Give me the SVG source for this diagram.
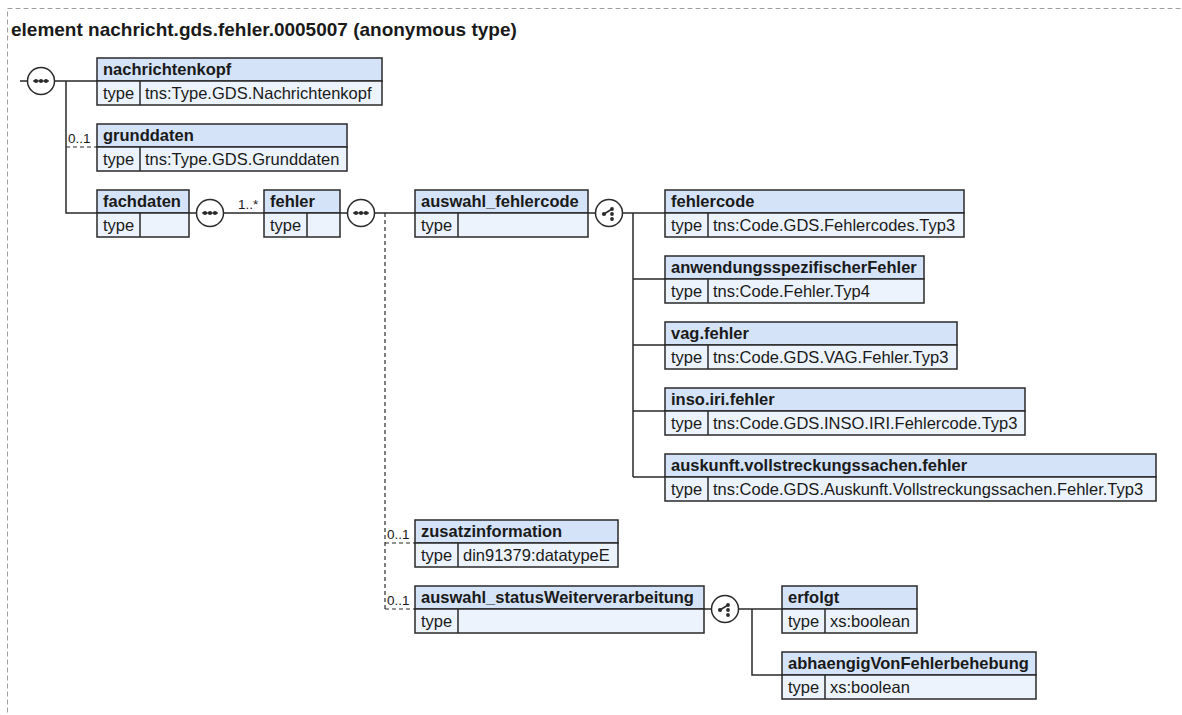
<svg xmlns="http://www.w3.org/2000/svg" width="1182" height="715" viewBox="0 0 1182 715">
<style>
.frame{fill:none;stroke:#a0a0a0;stroke-width:1;stroke-dasharray:5,3}
.title{font-family:"Liberation Sans",Arial,sans-serif;font-size:19px;font-weight:bold;fill:#1a1a1a}
.hd{fill:#d5e3f8;stroke:#2a2a2a;stroke-width:1.5}
.rw{fill:#edf3fc;stroke:#2a2a2a;stroke-width:1.5}
.dv{stroke:#2a2a2a;stroke-width:1.5}
.h{font-family:"Liberation Sans",Arial,sans-serif;font-size:16.5px;font-weight:bold;fill:#1a1a1a}
.t{font-family:"Liberation Sans",Arial,sans-serif;font-size:16.5px;fill:#1a1a1a}
.c{fill:none;stroke:#2a2a2a;stroke-width:1.5}
.o{fill:none;stroke:#2a2a2a;stroke-width:1.2;stroke-dasharray:4,3}
.m{font-family:"Liberation Sans",Arial,sans-serif;font-size:13.5px;fill:#1a1a1a}
.ic{fill:#fff;stroke:#2a2a2a;stroke-width:1.5}
.dot{fill:#2a2a2a}
</style>
<defs>
<g id="seq">
<circle class="ic" r="13.5"/>
<line x1="-8" y1="0" x2="8" y2="0" stroke="#2a2a2a" stroke-width="1.3"/>
<circle class="dot" cx="-5" r="2.1"/><circle class="dot" r="2.1"/><circle class="dot" cx="5" r="2.1"/>
</g>
<g id="cho">
<circle class="ic" r="13.5"/>
<line x1="-5" y1="1" x2="3" y2="-4" stroke="#2a2a2a" stroke-width="1.5"/>
<circle class="dot" cx="-5" cy="1" r="2.1"/>
<circle class="dot" cx="3" cy="-4" r="1.9"/><circle class="dot" cx="3" cy="1" r="1.9"/><circle class="dot" cx="3" cy="6" r="1.9"/>
</g>
</defs>
<rect class="frame" x="7.5" y="8.5" width="1200" height="720"/>
<text class="title" x="11" y="36">element nachricht.gds.fehler.0005007 (anonymous type)</text>

<g id="connectors">
<path class="c" d="M20,81H27.5 M54.5,81H97 M66,81V213H97"/>
<path class="o" d="M66,147H97"/>
<text class="m" x="68" y="143">0..1</text>
<path class="c" d="M189,213H196.5 M223.5,213H264"/>
<text class="m" x="238" y="209">1..*</text>
<path class="c" d="M340,213H347.5 M374.5,213H415"/>
<path class="o" d="M385,213V609 M385,543H415 M385,609H415"/>
<text class="m" x="387" y="539">0..1</text>
<text class="m" x="387" y="605">0..1</text>
<path class="c" d="M588,213H595.5 M622.5,213H665 M633,213V477 M633,279H665 M633,345H665 M633,411H665 M633,477H665"/>
<path class="c" d="M704,609H711.5 M738.5,609H782 M752,609V675H782"/>
</g>

<g id="seq-root"><use href="#seq" x="41" y="81"/></g>
<g id="seq-fachdaten"><use href="#seq" x="210" y="213"/></g>
<g id="seq-fehler"><use href="#seq" x="361" y="213"/></g>
<g id="choice-fehlercode"><use href="#cho" x="609" y="213"/></g>
<g id="choice-status"><use href="#cho" x="725" y="609"/></g>

<g id="nachrichtenkopf" transform="translate(97,58)">
<rect class="hd" width="285" height="23"/><rect class="rw" y="23" width="285" height="24"/><line class="dv" x1="43" y1="23" x2="43" y2="47"/>
<text class="h" x="6" y="17">nachrichtenkopf</text><text class="t" x="6" y="41">type</text><text class="t" x="48" y="41">tns:Type.GDS.Nachrichtenkopf</text>
</g>
<g id="grunddaten" transform="translate(97,124)">
<rect class="hd" width="250" height="23"/><rect class="rw" y="23" width="250" height="24"/><line class="dv" x1="43" y1="23" x2="43" y2="47"/>
<text class="h" x="6" y="17">grunddaten</text><text class="t" x="6" y="41">type</text><text class="t" x="48" y="41">tns:Type.GDS.Grunddaten</text>
</g>
<g id="fachdaten" transform="translate(97,190)">
<rect class="hd" width="92" height="23"/><rect class="rw" y="23" width="92" height="24"/><line class="dv" x1="43" y1="23" x2="43" y2="47"/>
<text class="h" x="6" y="17">fachdaten</text><text class="t" x="6" y="41">type</text>
</g>
<g id="fehler" transform="translate(264,190)">
<rect class="hd" width="76" height="23"/><rect class="rw" y="23" width="76" height="24"/><line class="dv" x1="43" y1="23" x2="43" y2="47"/>
<text class="h" x="6" y="17">fehler</text><text class="t" x="6" y="41">type</text>
</g>
<g id="auswahl_fehlercode" transform="translate(415,190)">
<rect class="hd" width="173" height="23"/><rect class="rw" y="23" width="173" height="24"/><line class="dv" x1="43" y1="23" x2="43" y2="47"/>
<text class="h" x="6" y="17">auswahl_fehlercode</text><text class="t" x="6" y="41">type</text>
</g>
<g id="fehlercode" transform="translate(665,190)">
<rect class="hd" width="299" height="23"/><rect class="rw" y="23" width="299" height="24"/><line class="dv" x1="43" y1="23" x2="43" y2="47"/>
<text class="h" x="6" y="17">fehlercode</text><text class="t" x="6" y="41">type</text><text class="t" x="48" y="41">tns:Code.GDS.Fehlercodes.Typ3</text>
</g>
<g id="anwendungsspezifischerFehler" transform="translate(665,256)">
<rect class="hd" width="259" height="23"/><rect class="rw" y="23" width="259" height="24"/><line class="dv" x1="43" y1="23" x2="43" y2="47"/>
<text class="h" x="6" y="17">anwendungsspezifischerFehler</text><text class="t" x="6" y="41">type</text><text class="t" x="48" y="41">tns:Code.Fehler.Typ4</text>
</g>
<g id="vag.fehler" transform="translate(665,322)">
<rect class="hd" width="292" height="23"/><rect class="rw" y="23" width="292" height="24"/><line class="dv" x1="43" y1="23" x2="43" y2="47"/>
<text class="h" x="6" y="17">vag.fehler</text><text class="t" x="6" y="41">type</text><text class="t" x="48" y="41">tns:Code.GDS.VAG.Fehler.Typ3</text>
</g>
<g id="inso.iri.fehler" transform="translate(665,388)">
<rect class="hd" width="360" height="23"/><rect class="rw" y="23" width="360" height="24"/><line class="dv" x1="43" y1="23" x2="43" y2="47"/>
<text class="h" x="6" y="17">inso.iri.fehler</text><text class="t" x="6" y="41">type</text><text class="t" x="48" y="41">tns:Code.GDS.INSO.IRI.Fehlercode.Typ3</text>
</g>
<g id="auskunft.vollstreckungssachen.fehler" transform="translate(665,454)">
<rect class="hd" width="491" height="23"/><rect class="rw" y="23" width="491" height="24"/><line class="dv" x1="43" y1="23" x2="43" y2="47"/>
<text class="h" x="6" y="17">auskunft.vollstreckungssachen.fehler</text><text class="t" x="6" y="41">type</text><text class="t" x="48" y="41">tns:Code.GDS.Auskunft.Vollstreckungssachen.Fehler.Typ3</text>
</g>
<g id="zusatzinformation" transform="translate(415,520)">
<rect class="hd" width="203" height="23"/><rect class="rw" y="23" width="203" height="24"/><line class="dv" x1="43" y1="23" x2="43" y2="47"/>
<text class="h" x="6" y="17">zusatzinformation</text><text class="t" x="6" y="41">type</text><text class="t" x="48" y="41">din91379:datatypeE</text>
</g>
<g id="auswahl_statusWeiterverarbeitung" transform="translate(415,586)">
<rect class="hd" width="289" height="23"/><rect class="rw" y="23" width="289" height="24"/><line class="dv" x1="43" y1="23" x2="43" y2="47"/>
<text class="h" x="6" y="17">auswahl_statusWeiterverarbeitung</text><text class="t" x="6" y="41">type</text>
</g>
<g id="erfolgt" transform="translate(782,586)">
<rect class="hd" width="135" height="23"/><rect class="rw" y="23" width="135" height="24"/><line class="dv" x1="43" y1="23" x2="43" y2="47"/>
<text class="h" x="6" y="17">erfolgt</text><text class="t" x="6" y="41">type</text><text class="t" x="48" y="41">xs:boolean</text>
</g>
<g id="abhaengigVonFehlerbehebung" transform="translate(782,652)">
<rect class="hd" width="254" height="23"/><rect class="rw" y="23" width="254" height="24"/><line class="dv" x1="43" y1="23" x2="43" y2="47"/>
<text class="h" x="6" y="17">abhaengigVonFehlerbehebung</text><text class="t" x="6" y="41">type</text><text class="t" x="48" y="41">xs:boolean</text>
</g>
</svg>
